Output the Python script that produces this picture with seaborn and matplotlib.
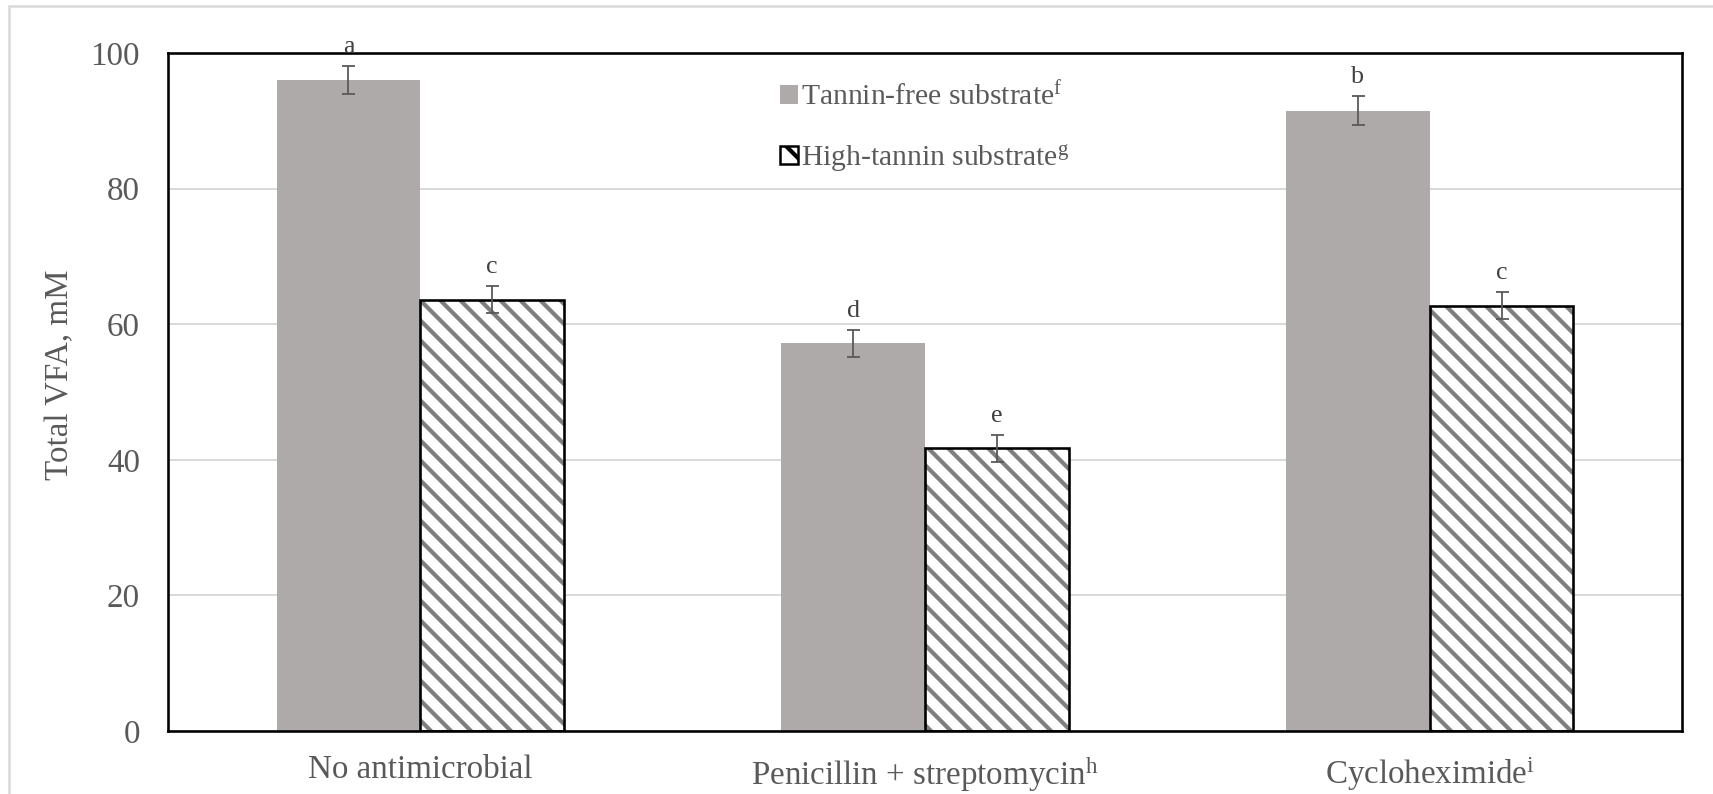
import matplotlib
matplotlib.use("Agg")
import matplotlib.pyplot as plt
import seaborn as sns
import pandas as pd
import numpy as np
from matplotlib.patches import Patch, Rectangle

# ---- data ----
categories = ["No antimicrobial", "Penicillin + streptomycin", "Cycloheximide"]
category_labels = ["No antimicrobial",
                   "Penicillin + streptomycin$^{\\mathrm{h}}$",
                   "Cycloheximide$^{\\mathrm{i}}$"]
series_names = ["Tannin-free substrate", "High-tannin substrate"]
series_labels = ["Tannin-free substrate$^{\\mathrm{f}}$",
                 "High-tannin substrate$^{\\mathrm{g}}$"]
tannin_free = [96.0, 57.2, 91.5]
high_tannin = [63.6, 41.7, 62.7]
tannin_free_err = [2.1, 2.0, 2.1]
high_tannin_err = [2.0, 2.0, 2.0]
tannin_free_letters = ["a", "d", "b"]
high_tannin_letters = ["c", "e", "c"]
y_ticks = [0, 20, 40, 60, 80, 100]

df = pd.DataFrame({
    "Treatment": categories * 2,
    "Substrate": [series_names[0]] * 3 + [series_names[1]] * 3,
    "VFA": tannin_free + high_tannin,
})

DPI = 120


def pt(px):
    return px * 72.0 / DPI


# ---- style ----
sns.set_style("white")
plt.rcParams["font.family"] = ["Liberation Serif", "DejaVu Serif"]
plt.rcParams["mathtext.fontset"] = "custom"
plt.rcParams["mathtext.rm"] = "Liberation Serif"
plt.rcParams["mathtext.it"] = "Liberation Serif:italic"
plt.rcParams["hatch.linewidth"] = pt(4.2)

TEXT = "#595959"
GRAY = "#AEAAAA"
HATCH = "#7F7F7F"

fig = plt.figure(figsize=(1713 / DPI, 794 / DPI), dpi=DPI)
ax = fig.add_axes([168 / 1713, 1 - 731 / 794, (1682 - 168) / 1713, (731 - 53) / 794])

sns.barplot(data=df, x="Treatment", y="VFA", hue="Substrate", order=categories,
            hue_order=series_names, palette=[GRAY, "white"], width=0.57,
            errorbar=None, ax=ax, legend=False, saturation=1)

errs = [tannin_free_err, high_tannin_err]
vals = [tannin_free, high_tannin]
letters = [tannin_free_letters, high_tannin_letters]
bar_containers = list(ax.containers)
for ci, cont in enumerate(bar_containers):
    xs = []
    for bar in cont:
        xs.append(bar.get_x() + bar.get_width() / 2)
        if ci == 0:
            bar.set_edgecolor("none")
            bar.set_linewidth(0)
        else:
            bar.set_facecolor("white")
            bar.set_hatch("\\\\")
            bar.set_edgecolor(HATCH)
            bar.set_linewidth(0)
            ax.add_patch(Rectangle(bar.get_xy(), bar.get_width(), bar.get_height(),
                                   fill=False, edgecolor="black", linewidth=pt(2.6),
                                   zorder=bar.get_zorder() + 0.1))
    ax.errorbar(xs, vals[ci], yerr=errs[ci], fmt="none", ecolor=TEXT,
                elinewidth=pt(1.8), capsize=pt(6.5), capthick=pt(1.8), zorder=5)
    for x, v, e, lab in zip(xs, vals[ci], errs[ci], letters[ci]):
        ax.annotate(lab, (x, v + e), xytext=(0, pt(8)), textcoords="offset points",
                    ha="center", va="bottom", fontsize=pt(26), color="#404040",
                    annotation_clip=False, zorder=6)

ax.set_xlim(-0.5, len(categories) - 0.5)
ax.set_ylim(0, 100)
ax.set_yticks(y_ticks)
ax.set_yticklabels([str(t) for t in y_ticks])
ax.set_xticks(range(len(categories)))
ax.set_xticklabels(category_labels)
ax.tick_params(axis="both", length=0, labelsize=pt(33), labelcolor=TEXT)
ax.tick_params(axis="y", pad=pt(28))
ax.tick_params(axis="x", pad=pt(24))
ax.grid(axis="y", color="#D9D9D9", linewidth=pt(2))
ax.set_axisbelow(True)
for s in ax.spines.values():
    s.set_visible(True)
    s.set_color("black")
    s.set_linewidth(pt(2.6))
ax.set_xlabel("")
ax.set_ylabel("Total VFA, mM", fontsize=pt(33), color=TEXT)
ax.yaxis.set_label_coords(-0.061, 0.525)

handles = [Patch(facecolor=GRAY, edgecolor="none", label=series_labels[0]),
           Patch(facecolor="white", edgecolor="black", hatch="\\", linewidth=pt(2.5),
                 label=series_labels[1])]
leg = ax.legend(handles=handles, loc="upper left",
                bbox_to_anchor=((765 - 168) / 1514, 1 - 14 / 678),
                frameon=False, fontsize=pt(29.6), handlelength=0.6, handleheight=0.6,
                handletextpad=0.12, labelspacing=1.07, borderpad=0)
for t in leg.get_texts():
    t.set_color(TEXT)

# outer light frame
fig.patches.append(Rectangle((9 / 1713, -0.05), 1.1, 1 - 6 / 794 + 0.05,
                             transform=fig.transFigure, fill=False,
                             edgecolor="#D9D9D9", linewidth=pt(2.5)))

fig.savefig("out.png", dpi=DPI)
